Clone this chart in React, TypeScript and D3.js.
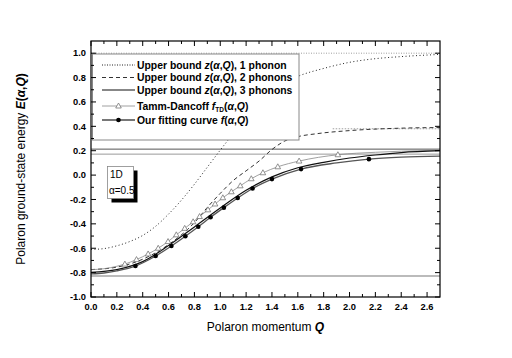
import React from 'react'
import * as d3 from 'd3'

// upper bound, 1 phonon (dotted)
const z1Q = [0, 0.1, 0.2, 0.3, 0.4, 0.5, 0.6, 0.7, 0.8, 0.9, 1.0, 1.1, 1.2, 1.3, 1.4, 1.5, 1.6, 1.8, 2.0, 2.2, 2.4, 2.7]
const z1E = [-0.61, -0.603, -0.58, -0.545, -0.495, -0.42, -0.32, -0.205, -0.075, 0.065, 0.205, 0.34, 0.47, 0.59, 0.69, 0.76, 0.81, 0.875, 0.925, 0.955, 0.972, 0.99]

// upper bound, 2 phonons (dashed)
const z2Q = [0, 0.2, 0.4, 0.6, 0.8, 0.9, 1.0, 1.1, 1.2, 1.3, 1.4, 1.5, 1.6, 1.75, 2.0, 2.4, 2.7]
const z2E = [-0.775, -0.755, -0.69, -0.57, -0.39, -0.265, -0.15, -0.045, 0.035, 0.115, 0.21, 0.28, 0.315, 0.34, 0.365, 0.385, 0.39]

// upper bound, 3 phonons (solid)
const z3Q = [0, 0.2, 0.4, 0.6, 0.8, 1.0, 1.2, 1.4, 1.6, 1.8, 2.0, 2.2, 2.4, 2.7]
const z3E = [-0.797, -0.775, -0.71, -0.578, -0.425, -0.27, -0.125, -0.015, 0.06, 0.105, 0.14, 0.165, 0.185, 0.2]

// Tamm-Dancoff curve and its markers
const tdQ = [0, 0.1, 0.2, 0.262, 0.352, 0.442, 0.52, 0.596, 0.66, 0.725, 0.79, 0.84, 0.905, 0.96, 1.02, 1.086, 1.155, 1.24, 1.33, 1.445, 1.61, 1.91, 2.2, 2.4, 2.7]
const tdE = [-0.776, -0.768, -0.748, -0.73, -0.693, -0.647, -0.6, -0.545, -0.49, -0.437, -0.383, -0.34, -0.285, -0.237, -0.186, -0.137, -0.088, -0.03, 0.019, 0.068, 0.115, 0.167, 0.187, 0.196, 0.205]
const tdMarkQ = [0.262, 0.352, 0.442, 0.52, 0.596, 0.66, 0.725, 0.79, 0.84, 0.905, 0.96, 1.02, 1.086, 1.155, 1.24, 1.33, 1.445, 1.61, 1.91]
const tdMarkE = [-0.73, -0.693, -0.647, -0.6, -0.545, -0.49, -0.437, -0.383, -0.34, -0.285, -0.237, -0.186, -0.137, -0.088, -0.03, 0.019, 0.068, 0.115, 0.167]

// our fitting curve and its dots
const fitQ = [0, 0.1, 0.2, 0.344, 0.5, 0.622, 0.73, 0.83, 0.925, 1.028, 1.135, 1.25, 1.4, 1.625, 1.9, 2.15, 2.4, 2.7]
const fitE = [-0.81, -0.803, -0.785, -0.746, -0.664, -0.582, -0.502, -0.424, -0.346, -0.267, -0.188, -0.11, -0.033, 0.049, 0.1, 0.131, 0.147, 0.156]
const fitMarkQ = [0.344, 0.5, 0.622, 0.73, 0.83, 0.925, 1.028, 1.135, 1.25, 1.4, 1.625, 2.15]
const fitMarkE = [-0.746, -0.664, -0.582, -0.502, -0.424, -0.346, -0.267, -0.188, -0.11, -0.033, 0.049, 0.131]

// horizontal reference levels
const level1 = 1.0
const level2 = 0.38
const level2Start = 1.87
const level3 = 0.213
const level3b = 0.172
const groundLevel = -0.828

const xTicks = [0, 0.2, 0.4, 0.6, 0.8, 1.0, 1.2, 1.4, 1.6, 1.8, 2.0, 2.2, 2.4, 2.6]
const yTicks = [-1.0, -0.8, -0.6, -0.4, -0.2, 0.0, 0.2, 0.4, 0.6, 0.8, 1.0]

const L = 91, R = 440, T = 41, B = 297
const font = 'Arial, "Liberation Sans", Helvetica, sans-serif'

export default function App() {
  const x = d3.scaleLinear().domain([0, 2.7]).range([L, R])
  const y = d3.scaleLinear().domain([-1, 1.1]).range([B, T])

  const line = d3.line<[number, number]>()
    .x(d => x(d[0]))
    .y(d => y(d[1]))
    .curve(d3.curveMonotoneX)
  const path = (qs: number[], es: number[]) => line(qs.map((q, i) => [q, es[i]]) as [number, number][]) || ''

  const xMinor = d3.range(0.1, 2.7, 0.2)
  const yMinor = d3.range(-0.9, 1.1, 0.2)

  const tri = (cx: number, cy: number, key: string) => (
    <path key={key} d={`M${cx},${cy - 3}L${cx + 2.8},${cy + 2}L${cx - 2.8},${cy + 2}Z`}
      fill="white" stroke="#777" strokeWidth={0.8} />
  )

  const legX0 = 102, legX1 = 135, legTx = 137
  const legRows = [65, 77.5, 90, 106, 120]

  return (
    <svg width={512} height={358} style={{ position: 'absolute', left: 0, top: 0, background: 'white' }}
      fontFamily={font}>
      <defs>
        <clipPath id="plot"><rect x={L} y={T} width={R - L} height={B - T} /></clipPath>
      </defs>

      <g clipPath="url(#plot)">
        <line x1={L} x2={R} y1={y(level1)} y2={y(level1)} stroke="#888" strokeWidth={0.8} strokeDasharray="1,1.5" />
        <line x1={x(level2Start)} x2={R} y1={y(level2)} y2={y(level2)} stroke="#888" strokeWidth={0.8} strokeDasharray="1.5,1.5" />
        <line x1={L} x2={R} y1={y(level3)} y2={y(level3)} stroke="#555" strokeWidth={1} />
        <line x1={L} x2={R} y1={y(level3b)} y2={y(level3b)} stroke="#999" strokeWidth={1} />
        <line x1={L} x2={R} y1={y(groundLevel)} y2={y(groundLevel)} stroke="#bbb" strokeWidth={2} />

        <path d={path(z1Q, z1E)} fill="none" stroke="#222" strokeWidth={1} strokeDasharray="1,2.5" />
        <path d={path(z2Q, z2E)} fill="none" stroke="#333" strokeWidth={1} strokeDasharray="4,3" />
        <path d={path(tdQ, tdE)} fill="none" stroke="#888" strokeWidth={0.8} />
        <path d={path(z3Q, z3E)} fill="none" stroke="#111" strokeWidth={1.2} />
        <path d={path(fitQ, fitE)} fill="none" stroke="#555" strokeWidth={1.3} />
        {tdMarkQ.map((q, i) => tri(x(q), y(tdMarkE[i]), 't' + i))}
        {fitMarkQ.map((q, i) => <circle key={'f' + i} cx={x(q)} cy={y(fitMarkE[i])} r={2.3} fill="#000" />)}
      </g>

      {/* legend */}
      <rect x={92.5} y={54} width={206.5} height={86} fill="white" stroke="#888" strokeWidth={1} />
      <g fontSize={10.4} fontWeight="bold" fill="#000">
        <line x1={legX0} x2={legX1} y1={legRows[0]} y2={legRows[0]} stroke="#222" strokeDasharray="1,1.5" />
        <text x={legTx} y={legRows[0] + 3.8}>Upper bound <tspan fontStyle="italic">z</tspan>(<tspan fontStyle="italic">α</tspan>,<tspan fontStyle="italic">Q</tspan>), 1 phonon</text>
        <line x1={legX0} x2={legX1} y1={legRows[1]} y2={legRows[1]} stroke="#333" strokeDasharray="4,3" />
        <text x={legTx} y={legRows[1] + 3.8}>Upper bound <tspan fontStyle="italic">z</tspan>(<tspan fontStyle="italic">α</tspan>,<tspan fontStyle="italic">Q</tspan>), 2 phonons</text>
        <line x1={legX0} x2={legX1} y1={legRows[2]} y2={legRows[2]} stroke="#111" strokeWidth={1.2} />
        <text x={legTx} y={legRows[2] + 3.8}>Upper bound <tspan fontStyle="italic">z</tspan>(<tspan fontStyle="italic">α</tspan>,<tspan fontStyle="italic">Q</tspan>), 3 phonons</text>
        <line x1={legX0} x2={legX1} y1={legRows[3]} y2={legRows[3]} stroke="#888" strokeWidth={0.8} />
        {tri((legX0 + legX1) / 2, legRows[3], 'lt')}
        <text x={legTx} y={legRows[3] + 3.8}>Tamm-Dancoff <tspan fontStyle="italic">f</tspan><tspan fontSize={6.5} dy={2}>TD</tspan><tspan dy={-2}>(</tspan><tspan fontStyle="italic">α</tspan>,<tspan fontStyle="italic">Q</tspan>)</text>
        <line x1={legX0} x2={legX1} y1={legRows[4]} y2={legRows[4]} stroke="#777" strokeWidth={1.8} />
        <circle cx={(legX0 + legX1) / 2} cy={legRows[4]} r={2.3} fill="#000" />
        <text x={legTx} y={legRows[4] + 3.8}>Our fitting curve <tspan fontStyle="italic">f</tspan>(<tspan fontStyle="italic">α</tspan>,<tspan fontStyle="italic">Q</tspan>)</text>
      </g>

      {/* inset label */}
      <rect x={111.5} y={170.5} width={26} height={32} fill="#000" />
      <rect x={107.5} y={166.5} width={26} height={32} fill="white" stroke="#888" strokeWidth={0.8} />
      <text x={110} y={177.5} fontSize={10}>1D</text>
      <text x={109} y={194} fontSize={10}>α=0.5</text>

      {/* frame and ticks */}
      <rect x={L} y={T} width={R - L} height={B - T} fill="none" stroke="#000" strokeWidth={1.2} />
      <g stroke="#000" strokeWidth={1}>
        {xTicks.map(t => (
          <g key={'xt' + t}>
            <line x1={x(t)} x2={x(t)} y1={B} y2={B - 5} />
            <line x1={x(t)} x2={x(t)} y1={T} y2={T + 5} />
          </g>
        ))}
        {xMinor.map(t => (
          <g key={'xm' + t}>
            <line x1={x(t)} x2={x(t)} y1={B} y2={B - 3} />
            <line x1={x(t)} x2={x(t)} y1={T} y2={T + 3} />
          </g>
        ))}
        {yTicks.map(t => (
          <g key={'yt' + t}>
            <line x1={L} x2={L + 5} y1={y(t)} y2={y(t)} />
            <line x1={R} x2={R - 5} y1={y(t)} y2={y(t)} />
          </g>
        ))}
        {yMinor.map(t => (
          <g key={'ym' + t}>
            <line x1={L} x2={L + 3} y1={y(t)} y2={y(t)} />
            <line x1={R} x2={R - 3} y1={y(t)} y2={y(t)} />
          </g>
        ))}
      </g>
      <g fontSize={9.3} fontWeight="bold" fill="#000">
        {xTicks.map(t => (
          <text key={'xl' + t} x={x(t)} y={B + 13} textAnchor="middle">{d3.format('.1f')(t)}</text>
        ))}
        {yTicks.map(t => (
          <text key={'yl' + t} x={L - 5} y={y(t) + 3.3} textAnchor="end">{d3.format('.1f')(t).replace('−', '-')}</text>
        ))}
      </g>

      <text x={(L + R) / 2} y={331} fontSize={12} textAnchor="middle">Polaron momentum <tspan fontWeight="bold" fontStyle="italic">Q</tspan></text>
      <text transform={`translate(25,${(T + B) / 2}) rotate(-90)`} fontSize={12} textAnchor="middle">
        Polaron ground-state energy <tspan fontWeight="bold" fontStyle="italic">E</tspan><tspan fontWeight="bold">(</tspan><tspan fontWeight="bold" fontStyle="italic">α</tspan><tspan fontWeight="bold">,</tspan><tspan fontWeight="bold" fontStyle="italic">Q</tspan><tspan fontWeight="bold">)</tspan>
      </text>
    </svg>
  )
}
